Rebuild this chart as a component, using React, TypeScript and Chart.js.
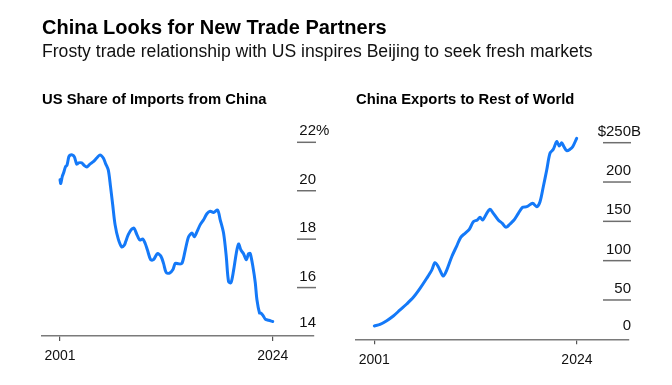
import React, { useEffect, useRef } from "react";
import { Chart, registerables } from "chart.js";

Chart.register(...registerables);

// ---------- Data ----------
const shareYears = [
  2001.0, 2001.08, 2001.25, 2001.4, 2001.6, 2001.75, 2001.95, 2002.1, 2002.3, 2002.55, 2002.8, 2003.0,
  2003.35, 2003.6, 2003.9, 2004.24, 2004.6, 2004.97, 2005.32, 2005.68, 2005.95, 2006.22, 2006.45,
  2006.7, 2006.95, 2007.3, 2007.67, 2007.95, 2008.1, 2008.39, 2008.76, 2009.0, 2009.3, 2009.6,
  2009.95, 2010.2, 2010.45, 2010.8, 2011.1, 2011.53, 2011.9, 2012.19, 2012.48, 2012.84, 2013.21,
  2013.46, 2013.82, 2014.18, 2014.54, 2014.9, 2015.27, 2015.51, 2015.8, 2016.16, 2016.52, 2016.88,
  2017.24, 2017.6, 2018.03, 2018.32, 2018.68, 2018.97, 2019.22, 2019.48, 2019.76, 2020.05, 2020.3,
  2020.56, 2020.84, 2021.14, 2021.39, 2021.57, 2021.86, 2022.11, 2022.29, 2022.57, 2022.7, 2022.94,
  2023.19, 2023.54, 2024.0,
];
const shareValues = [
  20.45, 20.3, 20.6, 20.75, 21.0, 21.05, 21.4, 21.47, 21.48, 21.4, 21.1, 21.15,
  21.15, 21.05, 20.98, 21.1, 21.2, 21.35, 21.48, 21.35, 21.1, 20.85, 20.2,
  19.4, 18.6, 18.0, 17.68, 17.75, 17.9, 18.2, 18.42, 18.45, 18.2, 17.97,
  18.0, 17.83, 17.55, 17.15, 17.15, 17.4, 17.3, 17.0, 16.62, 16.6, 16.75,
  17.0, 16.98, 17.0, 17.55, 18.1, 18.25, 18.1, 18.3, 18.6, 18.8, 19.05,
  19.15, 19.1, 19.2, 18.8, 18.25, 17.3, 16.25, 16.2, 16.7, 17.4, 17.8,
  17.55, 17.4, 17.15, 17.4, 17.4, 16.85, 16.2, 15.5, 14.95, 14.95, 14.85,
  14.7, 14.65, 14.6,
];

const exportYears = [
  2001.0, 2001.65, 2002.41, 2003.16, 2003.92, 2004.68, 2005.43, 2006.19, 2006.95, 2007.52, 2007.89,
  2008.26, 2008.83, 2009.22, 2009.79, 2010.35, 2010.81, 2011.3, 2011.78, 2012.24, 2012.69, 2013.0,
  2013.3, 2013.76, 2014.13, 2014.51, 2015.07, 2015.53, 2015.95, 2016.4, 2016.86, 2017.35, 2017.84,
  2018.3, 2018.98, 2019.43, 2019.81, 2020.18, 2020.57, 2020.94, 2021.32, 2021.7, 2022.0, 2022.27,
  2022.53, 2022.84, 2023.21, 2023.52, 2023.97,
];
const exportValues = [
  17, 19, 23.7, 29.6, 37.3, 44.9, 53.4, 64.8, 77.6, 88, 97.4,
  92.3, 80.5, 88, 105, 118.6, 129.7, 134.8, 139.9, 149.5, 151.7, 155.1,
  151.7, 160.2, 165.3, 160.2, 151.7, 147.5, 142.4, 146.6, 151.7, 160.2, 167.9,
  168.6, 172.9, 168.6, 175, 194, 215.3, 236.5, 241.6, 251.3, 245.8, 250,
  244.9, 239.8, 241.6, 244.9, 255.6,
];

const xTickYears = [2001, 2024];
const shareTicks = [14, 16, 18, 20, 22];
const exportTicks = [0, 50, 100, 150, 200, 250];

const FONT = '"Liberation Sans", Arial, Helvetica, sans-serif';
const BLUE = "#1479f8";

type PanelCfg = {
  left: number;
  xs: number[];
  ys: number[];
  xMin: number;
  xMax: number;
  yMin: number;
  yMax: number;
  ticks: number[];
  prefix: string;
  suffix: string;
  padLeft: number;
  padRight: number;
  padTop: number;
  axisHeight: number;
  tickLineLen: number;
};

const leftCfg: PanelCfg = {
  left: 0,
  xs: shareYears,
  ys: shareValues,
  xMin: 1999.05,
  xMax: 2028.46,
  yMin: 14,
  yMax: 22,
  ticks: shareTicks,
  prefix: "",
  suffix: "%",
  padLeft: 42,
  padRight: 22,
  padTop: 142.3,
  axisHeight: 49,
  tickLineLen: 19,
};

const rightCfg: PanelCfg = {
  left: 336,
  xs: exportYears,
  ys: exportValues,
  xMin: 1998.92,
  xMax: 2029.91,
  yMin: 0,
  yMax: 250,
  ticks: exportTicks,
  prefix: "$",
  suffix: "B",
  padLeft: 20,
  padRight: 43,
  padTop: 142.7,
  axisHeight: 45.7,
  tickLineLen: 28,
};

function Panel({ cfg }: { cfg: PanelCfg }) {
  const ref = useRef<HTMLCanvasElement | null>(null);
  useEffect(() => {
    if (!ref.current) return;
    const yTickPlugin = {
      id: "yTickPlugin",
      afterDraw(chart: any) {
        const ctx = chart.ctx;
        const area = chart.chartArea;
        const ys = chart.scales.y;
        const end = area.right + 2;
        ctx.save();
        ctx.font = `15px ${FONT}`;
        ctx.fillStyle = "#111";
        ctx.textBaseline = "alphabetic";
        const top = cfg.ticks[cfg.ticks.length - 1];
        cfg.ticks.forEach((v) => {
          const y = ys.getPixelForValue(v);
          const isMin = v === cfg.ticks[0];
          if (!isMin) {
            ctx.strokeStyle = "#6e6e6e";
            ctx.lineWidth = 1.5;
            ctx.beginPath();
            ctx.moveTo(end - cfg.tickLineLen, y);
            ctx.lineTo(end, y);
            ctx.stroke();
          }
          const label = String(v);
          const by = y - (isMin ? 9 : 7);
          ctx.textAlign = "right";
          ctx.fillText(label, end, by);
          if (v === top) {
            const w = ctx.measureText(label).width;
            if (cfg.prefix) ctx.fillText(cfg.prefix, end - w, by);
            if (cfg.suffix) {
              ctx.textAlign = "left";
              ctx.fillText(cfg.suffix, end, by);
            }
          }
        });
        ctx.restore();
      },
    };
    const chart = new Chart(ref.current, {
      type: "line",
      data: {
        datasets: [
          {
            data: cfg.xs.map((x, i) => ({ x, y: cfg.ys[i] })),
            borderColor: BLUE,
            borderWidth: 3,
            pointRadius: 0,
            tension: 0.3,
            fill: false,
            clip: false as any,
            borderCapStyle: "round",
            borderJoinStyle: "round",
          },
        ],
      },
      options: {
        animation: false,
        responsive: false,
        devicePixelRatio: 1,
        layout: {
          padding: { left: cfg.padLeft, right: cfg.padRight, top: cfg.padTop, bottom: 0 },
        },
        plugins: { legend: { display: false }, tooltip: { enabled: false }, title: { display: false } },
        scales: {
          x: {
            type: "linear",
            min: cfg.xMin,
            max: cfg.xMax,
            afterBuildTicks: (s: any) => {
              s.ticks = xTickYears.map((v) => ({ value: v }));
            },
            afterFit: (s: any) => {
              s.height = cfg.axisHeight;
            },
            ticks: {
              autoSkip: false,
              maxRotation: 0,
              padding: 7,
              color: "#111",
              font: { family: FONT, size: 14 },
              callback: (v: any) => String(v),
            },
            grid: {
              drawOnChartArea: false,
              drawTicks: true,
              tickLength: 5,
              color: "#555",
              lineWidth: 1.2,
            },
            border: { display: true, color: "#7a7a7a", width: 1.5 },
          },
          y: {
            display: false,
            min: cfg.yMin,
            max: cfg.yMax,
          },
        },
      },
      plugins: [yTickPlugin],
    } as any);
    return () => chart.destroy();
  }, [cfg]);
  return (
    <canvas
      ref={ref}
      width={336}
      height={385}
      style={{ position: "absolute", left: cfg.left, top: 0, width: 336, height: 385, display: "block" }}
    />
  );
}

export default function App() {
  const textBase: React.CSSProperties = {
    position: "absolute",
    whiteSpace: "nowrap",
    fontFamily: FONT,
    color: "#000",
    margin: 0,
  };
  return (
    <div
      style={{
        position: "fixed",
        left: 0,
        top: 0,
        width: 672,
        height: 385,
        background: "#fff",
        overflow: "hidden",
      }}
    >
      <Panel cfg={leftCfg} />
      <Panel cfg={rightCfg} />
      <div style={{ ...textBase, left: 42, top: 17.4, fontSize: 20, lineHeight: "20px", fontWeight: 700 }}>
        China Looks for New Trade Partners
      </div>
      <div style={{ ...textBase, left: 42, top: 42.6, fontSize: 17.6, lineHeight: "17.6px", color: "#111" }}>
        Frosty trade relationship with US inspires Beijing to seek fresh markets
      </div>
      <div style={{ ...textBase, left: 42, top: 91.5, fontSize: 14.8, lineHeight: "14.8px", fontWeight: 700 }}>
        US Share of Imports from China
      </div>
      <div style={{ ...textBase, left: 356, top: 91.5, fontSize: 14.8, lineHeight: "14.8px", fontWeight: 700 }}>
        China Exports to Rest of World
      </div>
    </div>
  );
}
